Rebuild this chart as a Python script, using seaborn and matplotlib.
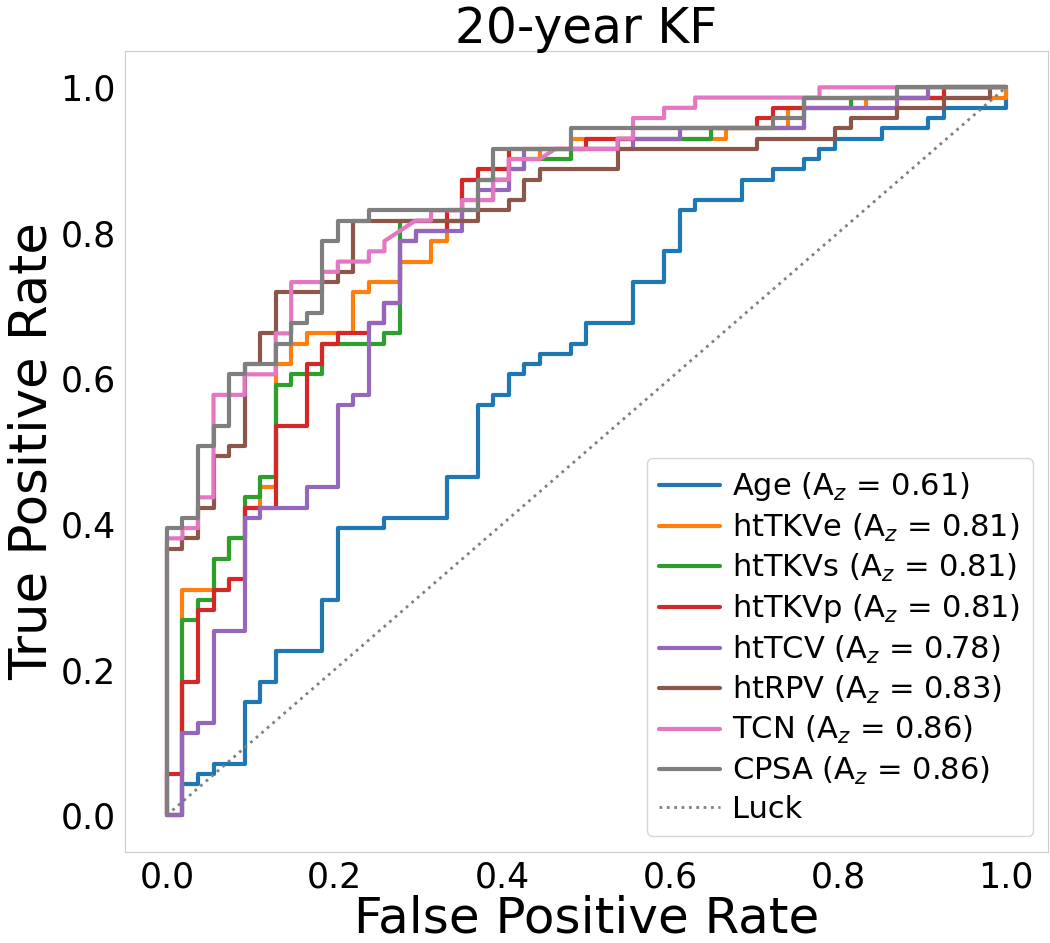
import matplotlib
matplotlib.use("Agg")
import matplotlib.pyplot as plt
import pandas as pd
import seaborn as sns

N_NEG = 54
N_POS = 71

names = ["Age", "htTKVe", "htTKVs", "htTKVp", "htTCV", "htRPV", "TCN", "CPSA"]
auc = [0.61, 0.81, 0.81, 0.81, 0.78, 0.83, 0.86, 0.86]

# corner points of each ROC curve, as false / true positive counts
age_fp = [0, 1, 1, 2, 2, 3, 3, 5, 5, 6, 6, 7, 7, 10, 10, 11, 11, 14, 14, 18, 18, 20, 20, 21, 21, 22, 22, 23, 23, 24, 24,
          26, 26, 27, 27, 30, 30, 32, 32, 33, 33, 34, 34, 37, 37, 39, 39, 41, 41, 42, 42, 43, 43, 46, 46, 49, 49, 50, 50,
          54, 54]
age_tp = [0, 0, 3, 3, 4, 4, 5, 5, 11, 11, 13, 13, 16, 16, 21, 21, 28, 28, 29, 29, 33, 33, 40, 40, 41, 41, 43, 43, 44, 44,
          45, 45, 46, 46, 48, 48, 52, 52, 55, 55, 59, 59, 60, 60, 62, 62, 63, 63, 64, 64, 65, 65, 66, 66, 67, 67, 68, 68,
          69, 69, 71]

tkve_fp = [0, 1, 1, 3, 3, 4, 4, 5, 5, 6, 6, 7, 7, 8, 8, 9, 9, 12, 12, 13, 13, 15, 15, 17, 17, 18, 18, 19, 19, 21, 21,
           22, 22, 24, 24, 26, 26, 36, 36, 40, 40, 45, 45, 54, 54]
tkve_tp = [0, 0, 22, 22, 25, 25, 27, 27, 30, 30, 32, 32, 44, 44, 46, 46, 47, 47, 51, 51, 52, 52, 54, 54, 56, 56, 58, 58,
           60, 60, 62, 62, 64, 64, 65, 65, 66, 66, 67, 67, 69, 69, 70, 70, 71]

tkvs_fp = [0, 1, 1, 2, 2, 3, 3, 4, 4, 5, 5, 6, 6, 7, 7, 8, 8, 10, 10, 14, 14, 15, 15, 19, 19, 21, 21, 23, 23, 26, 26,
           29, 29, 35, 35, 41, 41, 44, 44, 50, 50, 54]
tkvs_tp = [0, 0, 19, 19, 21, 21, 25, 25, 27, 27, 31, 31, 33, 33, 42, 42, 43, 43, 46, 46, 47, 47, 58, 58, 62, 62, 63, 63,
           64, 64, 65, 65, 66, 66, 67, 67, 69, 69, 70, 70, 71, 71]

tkvp_fp = [0, 0, 1, 1, 2, 2, 3, 3, 4, 4, 5, 5, 7, 7, 9, 9, 10, 10, 11, 11, 13, 13, 14, 14, 15, 15, 16, 16, 18, 18, 19,
           19, 20, 20, 22, 22, 27, 27, 30, 30, 38, 38, 39, 39, 41, 41, 50, 50, 54]
tkvp_tp = [0, 4, 4, 13, 13, 20, 20, 22, 22, 23, 23, 30, 30, 38, 38, 44, 44, 46, 46, 47, 47, 48, 48, 50, 50, 56, 56, 57,
           57, 59, 59, 62, 62, 63, 63, 65, 65, 66, 66, 67, 67, 68, 68, 69, 69, 70, 70, 71, 71]

tcv_fp = [0, 1, 1, 2, 2, 3, 3, 5, 5, 6, 6, 9, 9, 11, 11, 12, 12, 13, 13, 14, 14, 15, 15, 16, 16, 19, 19, 20, 20, 22, 22,
          23, 23, 30, 30, 33, 33, 41, 41, 47, 47, 49, 49, 54]
tcv_tp = [0, 0, 8, 8, 9, 9, 18, 18, 29, 29, 30, 30, 32, 32, 40, 40, 41, 41, 48, 48, 50, 50, 56, 56, 57, 57, 59, 59, 61,
          61, 63, 63, 65, 65, 66, 66, 67, 67, 69, 69, 70, 70, 71, 71]

rpv_fp = [0, 0, 1, 1, 2, 2, 3, 3, 4, 4, 5, 5, 6, 6, 7, 7, 10, 10, 11, 11, 12, 12, 20, 20, 22, 22, 23, 23, 24, 24, 29, 29,
          38, 38, 43, 43, 44, 44, 47, 47, 50, 50, 53, 53, 54]
rpv_tp = [0, 26, 26, 27, 27, 30, 30, 35, 35, 36, 36, 44, 44, 47, 47, 51, 51, 52, 52, 53, 53, 58, 58, 59, 59, 60, 60, 62,
          62, 63, 63, 65, 65, 66, 66, 67, 67, 68, 68, 69, 69, 70, 70, 71, 71]

tcn_fp = [0, 0, 1, 1, 2, 2, 3, 3, 5, 5, 7, 7, 8, 8, 10, 10, 11, 11, 13, 13, 14, 14, 16, 17, 17, 19, 19, 21, 21, 22, 22,
          24, 25, 29, 29, 30, 30, 32, 32, 34, 34, 42, 42, 54]
tcn_tp = [0, 27, 27, 28, 28, 31, 31, 41, 41, 43, 43, 47, 47, 52, 52, 53, 53, 54, 54, 55, 55, 56, 58, 58, 59, 59, 60, 60,
          62, 62, 64, 64, 65, 65, 66, 66, 68, 68, 69, 69, 70, 70, 71, 71]

cpsa_fp = [0, 0, 1, 1, 2, 2, 3, 3, 4, 4, 5, 5, 7, 7, 8, 8, 9, 9, 10, 10, 11, 11, 13, 13, 20, 20, 21, 21, 26, 26, 39, 39,
           41, 41, 47, 47, 54]
cpsa_tp = [0, 28, 28, 29, 29, 36, 36, 38, 38, 43, 43, 44, 44, 46, 46, 48, 48, 49, 49, 56, 56, 58, 58, 59, 59, 62, 62, 65,
           65, 67, 67, 68, 68, 70, 70, 71, 71]

curves = [(age_fp, age_tp), (tkve_fp, tkve_tp), (tkvs_fp, tkvs_tp), (tkvp_fp, tkvp_tp),
          (tcv_fp, tcv_tp), (rpv_fp, rpv_tp), (tcn_fp, tcn_tp), (cpsa_fp, cpsa_tp)]

# long-form table for seaborn
rows = []
for name, a, (fp, tp) in zip(names, auc, curves):
    label = f"{name} (A$_z$ = {a:.2f})"
    for i, (f, t) in enumerate(zip(fp, tp)):
        rows.append({"label": label, "step": i, "fpr": f / N_NEG, "tpr": t / N_POS})
df = pd.DataFrame(rows)

sns.set_style("whitegrid", {"axes.grid": False, "axes.edgecolor": ".8"})
plt.rcParams["font.family"] = ["DejaVu Sans"]
plt.rcParams["text.color"] = "black"
plt.rcParams["axes.labelcolor"] = "black"
plt.rcParams["xtick.color"] = "black"
plt.rcParams["ytick.color"] = "black"

fig, ax = plt.subplots(figsize=(10.5, 9.43), dpi=100)
fig.subplots_adjust(left=0.119, right=0.998, top=0.946, bottom=0.097)

sns.lineplot(data=df, x="fpr", y="tpr", hue="label", units="label", estimator=None, sort=False,
             palette="tab10", linewidth=3, ax=ax, legend=False)
lines = ax.get_lines()
ax.plot([0, 1], [0, 1], linestyle=":", color="gray", linewidth=2, label="Luck")

labels = [f"{n} (A$_z$ = {a:.2f})" for n, a in zip(names, auc)]
handles = lines[:len(labels)] + [ax.get_lines()[-1]]
ax.legend(handles, labels + ["Luck"], loc="lower right", fontsize=22, frameon=True,
          labelspacing=0.27, handletextpad=0.4)

ax.set_xlim(-0.05, 1.05)
ax.set_ylim(-0.05, 1.05)
ax.set_xticks([0.0, 0.2, 0.4, 0.6, 0.8, 1.0])
ax.set_yticks([0.0, 0.2, 0.4, 0.6, 0.8, 1.0])
ax.tick_params(labelsize=25, pad=3)
ax.set_xlabel("False Positive Rate", fontsize=36, labelpad=0)
ax.set_ylabel("True Positive Rate", fontsize=37, labelpad=2)
ax.set_title("20-year KF", fontsize=35)

fig.savefig("out.png", dpi=100)
